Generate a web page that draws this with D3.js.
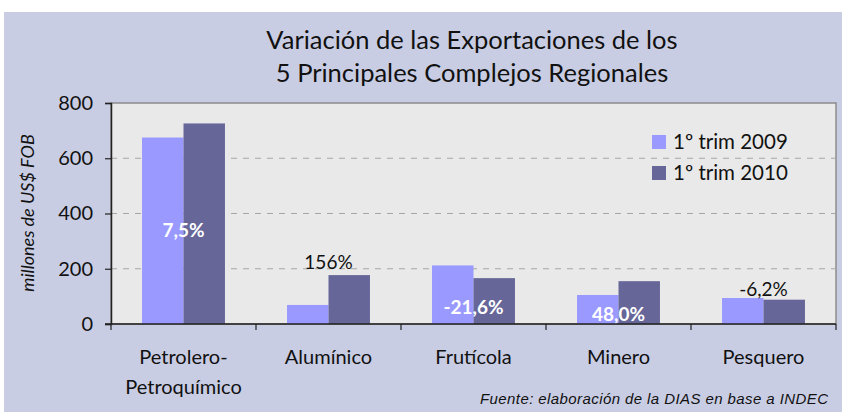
<!DOCTYPE html>
<html>
<head>
<meta charset="utf-8">
<script src="https://cdn.jsdelivr.net/npm/d3@7"></script>
<style>
  html, body { margin: 0; padding: 0; background: #ffffff; }
  svg { display: block; }
</style>
</head>
<body>
<div id="container"></div>
<script>
// --- data ---
var categories = ["Petrolero-\nPetroquímico", "Alumínico", "Frutícola", "Minero", "Pesquero"];
var seriesNames = ["1º trim 2009", "1º trim 2010"];
var values2009 = [675, 69, 212, 105, 94];
var values2010 = [726, 177, 166, 155, 88];
var pctLabels = ["7,5%", "156%", "-21,6%", "48,0%", "-6,2%"];
var pctInside = [true, false, true, true, false];
// where each % label sits, in axis units
var pctLabelAt = [340, 222, 62, 36, 124];
var yTicks = [0, 200, 400, 600, 800];

var colors = ["#9999ff", "#666699"];
var font = "Lato, 'Open Sans', sans-serif";

var svgWidth = 842, svgHeight = 412;
var plot = { left: 111, right: 836, top: 103, bottom: 324 };

var svg = d3.select("div#container")
    .append("svg")
    .attr("width", svgWidth)
    .attr("height", svgHeight);

// outer background
svg.append("rect")
    .attr("x", 4).attr("y", 12)
    .attr("width", svgWidth - 4).attr("height", svgHeight - 12)
    .attr("fill", "#c9cde3");

// title
var title = ["Variación de las Exportaciones de los", "5 Principales Complejos Regionales"];
svg.selectAll("text.title")
    .data(title)
    .enter()
    .append("text")
    .attr("class", "title")
    .attr("x", 472)
    .attr("y", (d, i) => 49 + i * 33)
    .attr("text-anchor", "middle")
    .style("font-family", font)
    .style("font-size", "25.5px")
    .style("fill", "#111")
    .text(d => d);

// --- scales ---
var x0 = d3.scaleBand()
    .domain(categories)
    .range([plot.left, plot.right])
    .padding(0);

var bw = x0.bandwidth();
var x1 = d3.scaleBand()
    .domain(seriesNames)
    .range([bw * 0.214, bw * 0.786])
    .padding(0);

var y = d3.scaleLinear()
    .domain([0, 800])
    .range([plot.bottom, plot.top]);

// plot area
svg.append("rect")
    .attr("x", plot.left).attr("y", plot.top)
    .attr("width", plot.right - plot.left)
    .attr("height", plot.bottom - plot.top)
    .attr("fill", "#e9e9e9")
    .attr("stroke", "#8c8c8c")
    .attr("stroke-width", 1.5);

// gridlines
svg.selectAll("line.grid")
    .data(yTicks.filter(t => t > 0 && t < 800))
    .enter()
    .append("line")
    .attr("class", "grid")
    .attr("x1", plot.left).attr("x2", plot.right)
    .attr("y1", d => y(d)).attr("y2", d => y(d))
    .attr("stroke", "#a6a6a6")
    .attr("stroke-width", 1)
    .attr("stroke-dasharray", "6,6");

// --- bars ---
var rows = categories.map((c, i) => ({ cat: c, vals: [values2009[i], values2010[i]] }));

var groups = svg.selectAll("g.group")
    .data(rows)
    .enter()
    .append("g")
    .attr("class", "group")
    .attr("transform", d => "translate(" + x0(d.cat) + ",0)");

groups.selectAll("rect")
    .data(d => d.vals.map((v, j) => ({ key: seriesNames[j], v: v, j: j })))
    .enter()
    .append("rect")
    .attr("x", d => x1(d.key))
    .attr("width", x1.bandwidth())
    .attr("y", d => y(d.v))
    .attr("height", d => y(0) - y(d.v))
    .attr("fill", d => colors[d.j]);

// % labels
svg.selectAll("text.pct")
    .data(categories)
    .enter()
    .append("text")
    .attr("class", "pct")
    .attr("x", d => x0(d) + bw / 2)
    .attr("y", (d, i) => y(pctLabelAt[i]))
    .attr("dy", "0.35em")
    .attr("text-anchor", "middle")
    .style("font-family", font)
    .style("font-size", "19px")
    .style("font-weight", (d, i) => pctInside[i] ? "bold" : "normal")
    .style("fill", (d, i) => pctInside[i] ? "#ffffff" : "#111")
    .text((d, i) => pctLabels[i]);

// --- axes ---
var yAxis = svg.append("g")
    .attr("transform", "translate(" + plot.left + ",0)")
    .call(d3.axisLeft(y).tickValues(yTicks).tickSize(6).tickPadding(12));
yAxis.select(".domain").attr("stroke", "#222").attr("stroke-width", 1.5);
yAxis.selectAll(".tick line").attr("stroke", "#222").attr("stroke-width", 1.2);
yAxis.selectAll(".tick text")
    .style("font-family", font)
    .style("font-size", "20px")
    .style("fill", "#111");

// x axis line and ticks between bands
svg.append("line")
    .attr("x1", plot.left - 6).attr("x2", plot.right)
    .attr("y1", plot.bottom).attr("y2", plot.bottom)
    .attr("stroke", "#222").attr("stroke-width", 1.5);

var bounds = categories.map(c => x0(c)).concat([plot.right]);
svg.selectAll("line.xtick")
    .data(bounds)
    .enter()
    .append("line")
    .attr("class", "xtick")
    .attr("x1", d => d).attr("x2", d => d)
    .attr("y1", plot.bottom).attr("y2", plot.bottom + 6)
    .attr("stroke", "#222").attr("stroke-width", 1.2);

// category labels
svg.selectAll("text.cat")
    .data(categories)
    .enter()
    .append("text")
    .attr("class", "cat")
    .attr("x", d => x0(d) + bw / 2)
    .attr("y", 364)
    .attr("text-anchor", "middle")
    .style("font-family", font)
    .style("font-size", "20px")
    .style("fill", "#111")
    .each(function (d) {
        var lines = d.split("\n");
        var t = d3.select(this);
        lines.forEach((l, k) => {
            t.append("tspan")
                .attr("x", x0(d) + bw / 2)
                .attr("dy", k === 0 ? 0 : 30)
                .text(l);
        });
    });

// y axis title
svg.append("text")
    .attr("transform", "translate(34,213) rotate(-90)")
    .attr("text-anchor", "middle")
    .style("font-family", font)
    .style("font-size", "18px")
    .style("font-style", "italic")
    .style("fill", "#111")
    .text("millones de US$ FOB");

// legend
var legend = svg.selectAll("g.legend")
    .data(seriesNames)
    .enter()
    .append("g")
    .attr("class", "legend")
    .attr("transform", (d, i) => "translate(652," + (135 + i * 31) + ")");

legend.append("rect")
    .attr("width", 14).attr("height", 14)
    .attr("fill", (d, i) => colors[i]);

legend.append("text")
    .attr("x", 21).attr("y", 7)
    .attr("dy", "0.35em")
    .style("font-family", font)
    .style("font-size", "20.5px")
    .style("fill", "#111")
    .text(d => d);

// source note
svg.append("text")
    .attr("x", 828).attr("y", 404)
    .attr("text-anchor", "end")
    .attr("textLength", 348)
    .attr("lengthAdjust", "spacing")
    .style("font-family", "'Liberation Sans', Arial, sans-serif")
    .style("font-size", "15px")
    .style("font-style", "italic")
    .style("fill", "#111")
    .text("Fuente: elaboración de la DIAS en base a INDEC");
</script>
</body>
</html>
